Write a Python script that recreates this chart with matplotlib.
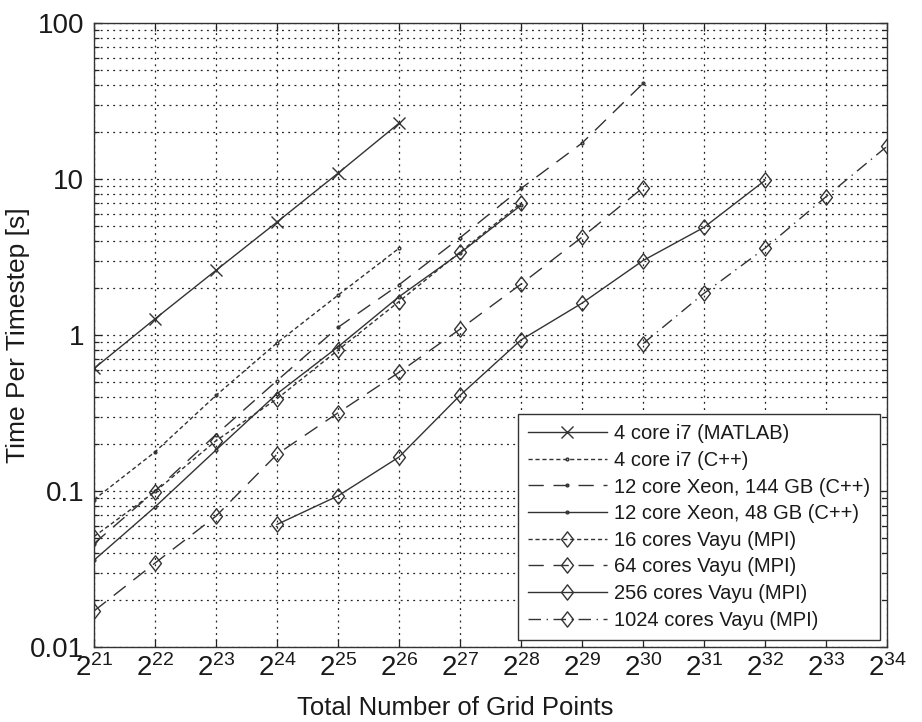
import matplotlib
matplotlib.use("Agg")
import matplotlib.pyplot as plt
from matplotlib.path import Path
from matplotlib.ticker import FixedLocator, FixedFormatter, LogLocator, NullFormatter

plt.rcParams['font.family'] = ['Liberation Sans', 'DejaVu Sans']
plt.rcParams['mathtext.fontset'] = 'custom'
plt.rcParams['mathtext.rm'] = 'Liberation Sans'
plt.rcParams['mathtext.it'] = 'Liberation Sans'

# exponents of the grid size (2^n) and measured time per timestep [s]
exp_matlab = [21, 22, 23, 24, 25, 26]
t_matlab = [0.61, 1.27, 2.6, 5.3, 10.9, 22.8]

exp_i7_cpp = [21, 22, 23, 24, 25, 26]
t_i7_cpp = [0.088, 0.178, 0.41, 0.89, 1.8, 3.6]

exp_xeon144 = [21, 22, 23, 24, 25, 26, 27, 28, 29, 30]
t_xeon144 = [0.046, 0.1, 0.23, 0.51, 1.12, 2.1, 4.2, 8.7, 17.0, 41.0]

exp_xeon48 = [21, 22, 23, 24, 25, 26, 27, 28]
t_xeon48 = [0.036, 0.079, 0.183, 0.42, 0.84, 1.76, 3.35, 6.8]

exp_vayu16 = [21, 22, 23, 24, 25, 26, 27, 28]
t_vayu16 = [0.051, 0.099, 0.21, 0.39, 0.80, 1.64, 3.4, 7.0]

exp_vayu64 = [21, 22, 23, 24, 25, 26, 27, 28, 29, 30]
t_vayu64 = [0.017, 0.0345, 0.069, 0.172, 0.317, 0.576, 1.09, 2.12, 4.24, 8.8]

exp_vayu256 = [24, 25, 26, 27, 28, 29, 30, 31, 32]
t_vayu256 = [0.061, 0.093, 0.165, 0.41, 0.93, 1.6, 3.0, 4.9, 9.8]

exp_vayu1024 = [30, 31, 32, 33, 34]
t_vayu1024 = [0.88, 1.85, 3.6, 7.7, 16.2]

labels = ["4 core i7 (MATLAB)", "4 core i7 (C++)", "12 core Xeon, 144 GB (C++)",
          "12 core Xeon, 48 GB (C++)", "16 cores Vayu (MPI)", "64 cores Vayu (MPI)",
          "256 cores Vayu (MPI)", "1024 cores Vayu (MPI)"]

x_exps = list(range(21, 35))

# MATLAB-like diamond (a bit taller than wide)
diamond = Path([(0, 1), (0.78, 0), (0, -1), (-0.78, 0), (0, 1)],
               [Path.MOVETO, Path.LINETO, Path.LINETO, Path.LINETO, Path.CLOSEPOLY])

col = '#333333'
short_dash = (0, (3, 2))
long_dash = (0, (11, 7))
dash_dot = (0, (9, 4, 1, 4))

fig = plt.figure(figsize=(9.22, 7.22), dpi=100)
ax = fig.add_axes([0.102, 0.104, 0.860, 0.864])

series = [
    (exp_matlab, t_matlab, '-', 'x', 9),
    (exp_i7_cpp, t_i7_cpp, short_dash, '.', 4),
    (exp_xeon144, t_xeon144, long_dash, '.', 4),
    (exp_xeon48, t_xeon48, '-', '.', 4),
    (exp_vayu16, t_vayu16, short_dash, diamond, 11),
    (exp_vayu64, t_vayu64, long_dash, diamond, 11),
    (exp_vayu256, t_vayu256, '-', diamond, 11),
    (exp_vayu1024, t_vayu1024, dash_dot, diamond, 11),
]

for (ex, t, ls, mk, ms), lab in zip(series, labels):
    ax.plot([2.0 ** e for e in ex], t, linestyle=ls, color=col, linewidth=1.0,
            marker=mk, markersize=ms, markerfacecolor='none', markeredgecolor=col,
            markeredgewidth=1.0, label=lab)

ax.set_xscale('log', base=2)
ax.set_yscale('log')
ax.set_xlim(2.0 ** 21, 2.0 ** 34)
ax.set_ylim(0.01, 100)

ax.xaxis.set_major_locator(FixedLocator([2.0 ** e for e in x_exps]))
ax.xaxis.set_major_formatter(FixedFormatter([r'$2^{%d}$' % e for e in x_exps]))
ax.xaxis.set_minor_locator(FixedLocator([]))
ax.yaxis.set_major_locator(FixedLocator([0.01, 0.1, 1, 10, 100]))
ax.yaxis.set_major_formatter(FixedFormatter(['0.01', '0.1', '1', '10', '100']))
ax.yaxis.set_minor_locator(LogLocator(base=10, subs=range(2, 10)))
ax.yaxis.set_minor_formatter(NullFormatter())

grid_style = dict(color='#222222', linestyle=(0, (1.5, 3.5)), linewidth=0.9)
ax.grid(True, which='major', axis='both', **grid_style)
ax.grid(True, which='minor', axis='y', **grid_style)

ax.tick_params(which='both', direction='in', top=True, right=True, colors='#222222')
ax.tick_params(which='major', length=6, width=0.9)
ax.tick_params(which='minor', length=3.5, width=0.9)
ax.tick_params(axis='y', labelsize=20, pad=7, labelcolor='#1a1a1a')
ax.tick_params(axis='x', labelsize=20, pad=5, labelcolor='#1a1a1a')

for s in ax.spines.values():
    s.set_color('#333333')
    s.set_linewidth(1.0)

ax.set_xlabel('Total Number of Grid Points', fontsize=18.5, color='#1a1a1a')
ax.xaxis.set_label_coords(0.455, -0.078)
ax.set_ylabel('Time Per Timestep [s]', fontsize=19, color='#1a1a1a')
ax.yaxis.set_label_coords(-0.081, 0.5)

leg = ax.legend(loc='lower right', fontsize=14.5, handlelength=3.9, handletextpad=0.35,
                labelspacing=0.38, borderaxespad=0.35, fancybox=False, framealpha=1,
                edgecolor='#333333', borderpad=0.5)
leg.get_frame().set_linewidth(1.0)
for txt in leg.get_texts():
    txt.set_color('#1a1a1a')

fig.savefig('out.png', dpi=100)
